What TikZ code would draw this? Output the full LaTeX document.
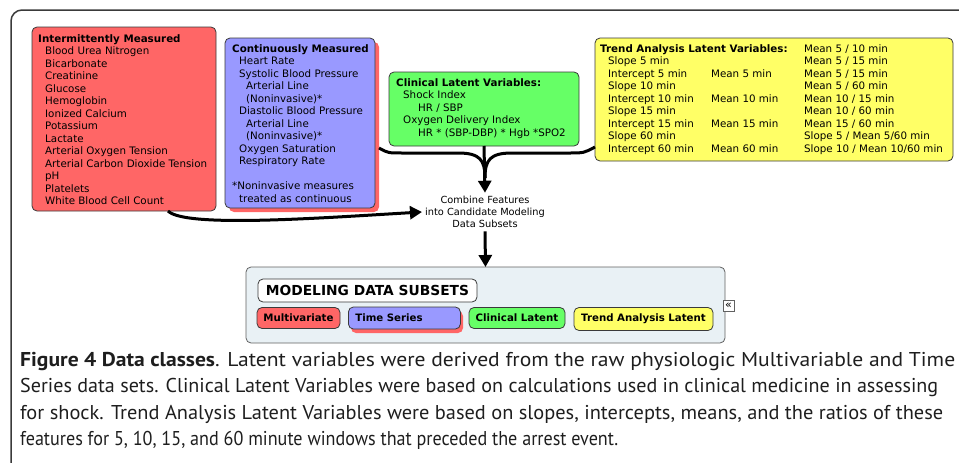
\documentclass[tikz,border=0pt]{standalone}
\usepackage{fontspec}
\setmainfont{DejaVu Sans}
\newfontfamily\capfont{PT Sans}
\usetikzlibrary{arrows.meta,fit}
\definecolor{cred}{HTML}{FF6666}
\definecolor{cblue}{HTML}{9999FF}
\definecolor{cgreen}{HTML}{66FF66}
\definecolor{cyellow}{HTML}{FFFF66}
\definecolor{cpanel}{HTML}{E9F1F5}
\definecolor{bline}{HTML}{3A3A3A}
\definecolor{captxt}{HTML}{1E1E1E}
\newcommand{\ind}{\hspace*{7pt}}
\newcommand{\indd}{\hspace*{14pt}}
\newcommand{\capline}[2]{\resizebox{#1}{\height}{#2}}
\begin{document}
\begin{tikzpicture}[x=1pt,y=-1pt,
  box/.style={draw=bline, line width=0.8pt, rounded corners=5pt, inner sep=0pt, outer sep=0pt},
  shadowbox/.style={fill=cred, rounded corners=5pt, inner sep=0pt, outer sep=0pt},
  txt/.style={anchor=north west, align=left, inner sep=0pt, font=\fontsize{10.3}{12.5}\selectfont},
  sub/.style={draw=bline, line width=0.8pt, rounded corners=5pt, inner sep=0pt, minimum height=21pt, font=\bfseries\fontsize{10.2}{12}\selectfont},
  conn/.style={line width=3pt, black},
  tip/.style={-{Triangle[width=13pt,length=12pt]}},
  captext/.style={anchor=base west, inner sep=0pt, text=captxt, font=\capfont\fontsize{20}{24}\selectfont}]
\useasboundingbox (0,0) rectangle (959,463);
% outer frame
\draw[line width=1.5pt, bline, rounded corners=11pt] (990,10) -- (11,10) -- (11,500);

% intermittent (red)
\node[box, fill=cred, fit={(32,27) (216,211)}] (im) {};
\node[txt] (imt) at (38,34) {\textbf{Intermittently Measured}\\
\ind Blood Urea Nitrogen\\
\ind Bicarbonate\\
\ind Creatinine\\
\ind Glucose\\
\ind Hemoglobin\\
\ind Ionized Calcium\\
\ind Potassium\\
\ind Lactate\\
\ind Arterial Oxygen Tension\\
\ind Arterial Carbon Dioxide Tension\\
\ind pH\\
\ind Platelets\\
\ind White Blood Cell Count};

% continuous (blue, red shadow)
\node[shadowbox, fit={(229,42) (379,212)}] (csshadow) {};
\node[box, fill=cblue, fit={(225,38) (375,208)}] (cs) {};
\node[txt] (cst) at (232,44) {\textbf{Continuously Measured}\\
\ind Heart Rate\\
\ind Systolic Blood Pressure\\
\indd Arterial Line\\
\indd (Noninvasive)*\\
\ind Diastolic Blood Pressure\\
\indd Arterial Line\\
\indd (Noninvasive)*\\
\ind Oxygen Saturation\\
\ind Respiratory Rate\\[12.5pt]
*Noninvasive measures\\
\ind treated as continuous};

% clinical latent (green)
\node[box, fill=cgreen, fit={(389,72) (579,146)}] (cl) {};
\node[txt] (clt) at (396,78) {\textbf{Clinical Latent Variables:}\\
\ind Shock Index\\
\hspace*{22pt}HR / SBP\\
\ind Oxygen Delivery Index\\
\hspace*{22pt}HR * (SBP-DBP) * Hgb *SPO2};

% trend analysis (yellow)
\node[box, fill=cyellow, fit={(595,38) (953,161)}] (tr) {};
\node[txt] (trt1) at (600,44) {\textbf{Trend Analysis Latent Variables:}\\
\hspace*{8pt}Slope 5 min\\
\hspace*{8pt}Intercept 5 min\\
\hspace*{8pt}Slope 10 min\\
\hspace*{8pt}Intercept 10 min\\
\hspace*{8pt}Slope 15 min\\
\hspace*{8pt}Intercept 15 min\\
\hspace*{8pt}Slope 60 min\\
\hspace*{8pt}Intercept 60 min};
\node[txt, font=\fontsize{10.3}{25}\selectfont] (trt2) at (711,69) {Mean 5 min\\
Mean 10 min\\
Mean 15 min\\
Mean 60 min};
\node[txt] (trt3) at (804,44) {Mean 5 / 10 min\\
Mean 5 / 15 min\\
Mean 5 / 15 min\\
Mean 5 / 60 min\\
Mean 10 / 15 min\\
Mean 10 / 60 min\\
Mean 15 / 60 min\\
Slope 5 / Mean 5/60 min\\
Slope 10 / Mean 10/60 min};

% combine text
\node[align=center, inner sep=3pt, font=\fontsize{9.8}{12.3}\selectfont] (comb) at (485,212) {Combine Features\\into Candidate Modeling\\Data Subsets};

% subsets panel
\node[box, fill=cpanel, draw=bline!80, fit={(246,267) (725,343)}] (panel) {};
\node[box, fill=white, fit={(258,279) (477,302)}] (ptitle) {};
\node[font=\bfseries\fontsize{13.8}{16}\selectfont, inner sep=0pt] (ptitlet) at (367.5,290.5) {MODELING DATA SUBSETS};
\node[sub, fill=cred, minimum width=83pt] (mv) at (298.5,318) {Multivariate};
\node[shadowbox, minimum width=112pt, minimum height=22pt] (tsshadow) at (407,322) {};
\node[sub, fill=cblue, minimum width=112pt, minimum height=22pt, anchor=west, align=left, text width=98pt, inner xsep=7pt] (ts) at (348,318) {Time Series};
\node[sub, fill=cgreen, minimum width=96pt] (clsub) at (517,318) {Clinical Latent};
\node[sub, fill=cyellow, minimum width=139pt, minimum height=23pt] (trsub) at (643.5,319) {Trend Analysis Latent};
\node[draw=bline!80, fill=white, line width=0.6pt, minimum width=11pt, minimum height=10.5pt, inner sep=0pt, font=\fontsize{11}{11}\selectfont] (icon) at (728.5,306) {«};

% connectors
\draw[conn] ([yshift=-1pt]csshadow.east |- 0,147) coordinate (lstart)
  .. controls (388,153) .. (402,153) -- (458,153)
  .. controls (480,153) and (485,160) .. (485,178);
\draw[conn] (tr.west |- 0,147) .. controls (584,153) .. (568,153) -- (512,153)
  .. controls (490,153) and (485,160) .. (485,178);
\draw[conn, tip] (cl.south) -- (comb.north);
\draw[conn, tip] ([xshift=-48pt]im.south east) .. controls (185,228) and (320,218) .. (comb.west);
\draw[conn, tip] (comb.south) -- (panel.north);

% caption
\node[captext] (cap1) at (20,366) {\capline{935pt}{\textbf{Figure 4 Data classes}. Latent variables were derived from the raw physiologic Multivariable and Time}};
\node[captext] (cap2) at (20,392.5) {\capline{918pt}{Series data sets. Clinical Latent Variables were based on calculations used in clinical medicine in assessing}};
\node[captext] (cap3) at (20,419) {\capline{923pt}{for shock. Trend Analysis Latent Variables were based on slopes, intercepts, means, and the ratios of these}};
\node[captext] (cap4) at (20,445.5) {\capline{598pt}{features for 5, 10, 15, and 60 minute windows that preceded the arrest event.}};
\end{tikzpicture}
\end{document}
